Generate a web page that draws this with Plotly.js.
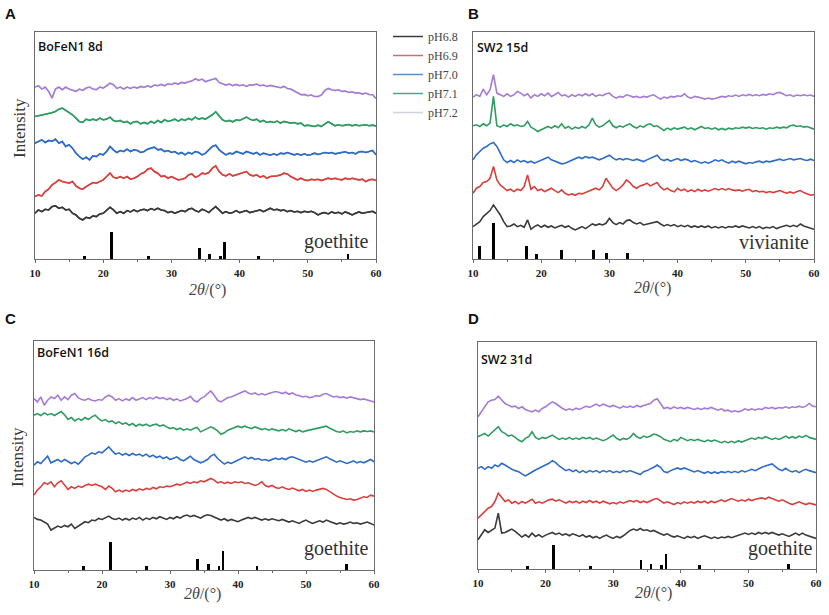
<!DOCTYPE html>
<html>
<head>
<meta charset="utf-8">
<script src="https://cdn.plot.ly/plotly-3.0.1.min.js"></script>
<style>
  html, body { margin: 0; padding: 0; background: #fff; }
  #chart { width: 829px; height: 615px; }
</style>
</head>
<body>
<div id="chart"></div>
<script>
// 2θ sampling positions (degrees)
const twoTheta = [
  10,10.5,11,11.5,12,12.5,13,13.5,14,14.5,
  15,15.5,16,16.5,17,17.5,18,18.5,19,19.5,
  20,20.5,21,21.5,22,22.5,23,23.5,24,24.5,
  25,25.5,26,26.5,27,27.5,28,28.5,29,29.5,
  30,30.5,31,31.5,32,32.5,33,33.5,34,34.5,
  35,35.5,36,36.5,37,37.5,38,38.5,39,39.5,
  40,40.5,41,41.5,42,42.5,43,43.5,44,44.5,
  45,45.5,46,46.5,47,47.5,48,48.5,49,49.5,
  50,50.5,51,51.5,52,52.5,53,53.5,54,54.5,
  55,55.5,56,56.5,57,57.5,58,58.5,59,59.5,
  60];

const seriesNames = ['pH6.8','pH6.9','pH7.0','pH7.1','pH7.2'];

// ---- Panel A: BoFeN1 8d (stacked intensity, arbitrary units) ----
const a68 = [137,147,142,149,147,157,159,152,155,147, 149,137,132,122,117,125,122,129,127,135,
  137,145,155,147,137,142,137,145,141,147, 142,147,149,145,151,147,152,147,145,139,
  142,137,141,145,142,149,152,145,141,149, 145,139,149,157,147,137,142,137,139,145,
  139,142,145,139,142,145,147,142,147,152, 147,149,145,147,142,145,141,143,139,143,
  140,143,139,132,137,139,135,141,137,140, 135,141,137,132,137,141,137,139,142,143, 137];
const a69 = [187,192,189,202,209,222,229,237,232,229, 227,232,219,212,209,217,222,229,227,232,
  237,247,257,245,242,247,242,247,239,242, 247,255,259,269,272,262,257,247,249,242,
  247,242,237,239,242,252,255,245,249,257, 255,259,272,279,262,252,249,255,249,252,
  255,257,262,252,249,252,245,249,242,247, 247,249,252,257,255,247,242,237,242,237,
  235,239,237,239,235,239,242,239,242,239, 237,242,239,242,239,237,239,232,237,239, 235];
const a70 = [347,352,357,349,355,352,359,347,352,337, 342,332,317,307,299,305,297,309,307,315,
  312,322,337,327,319,325,322,329,322,327, 325,319,322,329,332,335,327,329,322,325,
  319,322,315,319,312,319,315,322,319,312, 317,327,337,341,327,319,312,317,315,322,
  319,315,322,319,315,319,312,317,315,311, 315,311,317,315,319,315,312,315,311,315,
  311,313,317,313,315,319,317,319,315,317, 319,321,317,319,315,321,322,319,322,325, 312];
const a71 = [427,429,432,433,435,438,442,449,452,445, 437,432,422,412,409,419,415,419,415,422,
  417,419,425,415,412,415,409,412,405,411, 412,405,409,405,412,407,415,409,417,412,
  415,419,413,419,415,421,417,425,419,422, 419,425,432,441,429,417,412,415,411,417,
  415,419,425,419,415,419,411,415,409,412, 409,413,407,412,409,407,409,405,407,399,
  401,399,397,401,397,405,411,405,399,402, 399,401,403,399,402,399,401,402,399,401, 398];
const a72 = [515,519,509,515,502,482,509,515,507,515, 509,505,502,509,505,512,515,509,507,515,
  512,519,527,522,511,515,509,515,511,515, 512,517,514,519,515,521,519,523,519,525,
  523,527,524,529,527,531,533,540,535,539, 531,535,539,541,529,525,521,524,519,523,
  519,522,517,522,521,524,519,521,517,520, 517,515,513,517,511,509,504,499,492,493,
  489,491,487,487,491,505,511,507,505,507, 502,503,499,501,497,498,494,497,493,492, 481];

// ---- Panel B: SW2 15d ----
const b68 = [97,105,112,127,137,145,162,147,132,112, 97,99,105,97,101,95,117,89,97,102,
  95,101,95,99,93,97,101,95,99,92, 87,92,97,91,99,105,101,105,102,107,
  122,109,103,109,105,115,117,109,105,109, 102,105,107,109,112,105,99,103,99,103,
  97,101,97,101,95,99,95,99,95,99, 93,97,93,97,93,97,95,99,95,99,
  97,93,97,93,97,91,95,93,97,91, 95,97,101,97,101,97,105,99,95,93, 89];
const b69 = [197,212,217,229,232,242,277,237,222,212, 205,209,202,209,205,217,252,209,217,205,
  209,202,207,212,205,199,207,197,192,195, 191,197,195,199,202,207,212,207,217,242,
  227,212,205,212,222,237,229,217,212,219, 222,227,219,225,229,215,207,212,205,201,
  212,205,209,202,207,202,209,203,207,203, 207,211,207,211,207,211,207,205,207,203,
  207,209,202,205,201,203,199,202,199,202, 205,201,197,201,197,202,205,199,195,191, 193];
const b70 = [297,312,322,332,337,345,349,337,317,297, 289,295,289,297,291,295,289,293,287,291,
  295,299,305,297,293,289,285,287,291,297, 299,305,301,307,303,305,301,297,301,305,
  311,303,297,301,297,301,299,295,299,295, 292,297,302,307,311,299,295,299,293,297,
  301,295,299,297,291,295,291,287,291,287, 291,297,293,297,291,287,293,289,293,289,
  285,289,287,291,293,289,293,291,293,297, 299,295,297,301,297,299,301,297,295,299, 295];
const b71 = [399,402,397,405,399,407,487,399,395,402, 397,405,399,402,397,399,412,395,389,382,
  387,392,397,392,399,393,405,392,397,389, 395,391,397,392,402,422,402,395,399,407,
  415,399,393,399,395,401,405,397,392,399, 395,402,405,397,399,392,385,392,387,393,
  389,392,395,389,393,387,391,397,391,393, 389,393,387,391,387,392,389,393,391,395,
  392,395,391,394,391,393,389,393,391,395, 392,395,393,399,401,397,399,395,397,392, 389];
const b72 = [485,492,487,509,492,507,552,497,492,487, 495,487,492,502,497,489,495,482,492,487,
  495,489,497,487,492,499,489,492,485,492, 487,493,489,495,489,495,487,492,489,495,
  497,487,482,487,485,492,489,485,487,483, 487,485,489,492,485,479,485,482,487,485,
  489,487,495,485,482,487,485,482,479,482, 479,481,483,487,485,489,487,491,487,492,
  489,493,489,492,489,493,491,495,492,497, 499,495,489,492,487,491,489,492,489,491, 487];

// ---- Panel C: BoFeN1 16d ----
const c68 = [158,152,150,145,138,120,125,132,128,134, 130,138,125,132,140,145,142,150,148,155,
  152,158,162,155,152,156,150,155,150,156, 152,158,150,156,152,158,154,160,155,152,
  158,154,160,156,162,165,160,164,160,156, 162,166,164,160,155,150,154,148,152,148,
  145,150,154,158,154,158,154,150,154,150, 154,150,148,152,148,144,148,144,140,146,
  150,144,140,144,148,144,150,146,142,138, 142,138,140,144,140,142,138,142,144,140, 135];
const c69 = [225,240,250,262,258,265,250,262,268,255, 242,250,245,252,248,254,258,254,258,254,
  250,242,252,245,235,240,235,240,236,242, 238,244,240,245,242,248,244,250,248,252,
  250,254,258,255,260,264,260,265,262,268, 265,270,275,270,262,265,260,264,260,265,
  262,265,260,262,258,254,258,265,254,250, 254,248,245,250,245,242,246,242,238,242,
  236,240,236,240,242,245,242,235,228,222, 218,214,212,214,210,212,215,220,218,225, 222];
const c70 = [315,325,320,330,342,322,328,332,325,332, 326,320,325,318,328,340,345,352,348,355,
  352,360,370,358,348,352,345,350,344,350, 345,348,342,348,340,345,338,342,335,340,
  332,336,340,332,328,335,342,332,328,322, 326,332,342,348,335,325,318,324,320,325,
  330,335,340,334,338,332,335,330,332,328, 332,336,332,336,332,338,340,336,332,328,
  324,328,324,328,332,336,340,334,328,324, 328,324,320,324,328,322,326,322,326,332, 325];
const c71 = [465,470,464,472,466,470,464,470,476,466, 452,458,448,455,450,458,452,460,465,455,
  448,452,445,448,440,445,438,442,435,440, 432,438,434,438,432,436,438,432,436,430,
  425,428,422,426,420,424,420,425,428,415, 420,425,430,425,418,408,412,420,424,428,
  432,428,432,428,425,430,426,422,425,420, 424,420,418,422,418,424,420,416,420,415,
  418,420,422,425,428,430,432,426,420,416, 414,418,412,416,414,418,415,418,416,418, 415];
const c72 = [515,505,520,495,510,520,515,525,510,520, 512,525,530,518,512,510,515,510,508,512,
  510,520,525,520,510,515,508,514,510,518, 510,515,518,512,518,514,520,515,518,512,
  516,510,514,508,512,515,522,510,505,515, 520,530,538,525,510,505,512,518,520,525,
  530,535,538,532,528,532,526,530,526,530, 532,536,534,530,534,528,532,526,524,520,
  522,518,520,524,522,528,530,524,520,522, 518,520,516,520,518,514,512,514,512,508, 505];

// ---- Panel D: SW2 31d ----
const d68 = [88,103,118,110,116,123,168,108,110,116, 120,113,103,96,103,96,108,98,103,96,
  102,106,110,104,108,102,106,100,106,102, 98,103,96,100,94,98,92,98,102,96,
  92,98,94,100,108,116,120,116,122,116, 118,113,116,110,106,102,106,100,96,100,
  96,92,98,94,98,92,96,100,96,92, 96,92,96,94,98,94,98,102,106,108,
  104,108,104,110,106,110,106,110,106,102, 106,102,98,103,108,102,108,102,98,96, 92];
const d69 = [153,163,173,183,188,203,228,216,203,208, 198,203,196,203,198,204,210,198,202,198,
  204,208,210,204,208,202,198,204,200,204, 198,204,200,206,200,204,198,204,200,196,
  200,196,202,198,202,206,202,206,200,204, 200,206,210,212,206,198,202,198,194,200,
  196,202,198,202,198,204,200,204,198,204, 200,204,208,203,208,212,208,204,208,204,
  210,206,210,212,214,210,216,212,208,204, 208,202,198,194,198,202,198,194,198,196, 193];
const d70 = [303,308,300,308,303,313,308,318,313,306, 300,296,293,286,280,286,293,298,303,308,
  313,318,326,320,310,303,296,300,293,298, 290,296,290,296,292,296,290,296,292,296,
  290,294,290,296,292,296,293,288,284,293, 296,300,306,313,306,293,290,296,300,304,
  300,304,300,296,292,296,292,288,293,288, 292,288,293,290,294,290,294,290,296,292,
  296,300,296,302,306,310,313,316,308,300, 296,303,296,292,296,290,296,300,296,292, 290];
const d71 = [398,403,408,400,410,418,428,413,408,400, 403,396,388,383,393,398,413,396,390,396,
  393,398,403,396,390,394,390,396,390,394, 390,396,392,396,390,394,390,386,390,396,
  403,393,388,393,390,396,408,398,393,400, 396,400,406,403,398,390,386,383,390,386,
  396,390,386,390,386,390,386,383,388,384, 388,384,380,384,380,384,380,386,382,386,
  390,394,390,396,392,398,394,390,394,390, 394,400,394,398,394,400,396,402,396,393, 390];
const d72 = [458,473,490,503,508,510,520,508,498,493, 488,490,483,488,480,476,473,478,473,483,
  488,496,503,498,490,483,478,482,478,484, 480,486,490,486,492,496,490,496,492,488,
  492,488,484,490,486,490,486,492,488,492, 496,498,508,512,498,483,486,482,488,483,
  486,482,486,483,480,484,480,484,482,486, 482,478,482,476,478,473,476,473,476,482,
  478,482,478,482,480,486,483,486,482,486, 484,488,484,488,486,490,486,490,498,490, 488];

// ---- Reference patterns (stick lines) ----
const goethitePos = [17.3, 21.2, 26.6, 34.1, 35.6, 37.2, 37.8, 42.8, 55.9];
const goethiteA   = [10, 80, 10, 32, 15, 9, 50, 10, 14];
const goethiteC   = [13, 85, 13, 34, 18, 13, 57, 13, 18];
const goethiteD   = [10, 71, 10, 28, 14, 11, 46, 11, 15];
const vivianitePos = [11.0, 13.0, 17.9, 19.3, 23.0, 27.7, 29.6, 32.7];
const vivianiteB   = [40, 109, 40, 14, 27, 27, 19, 19];

// ---------------- styling / construction ----------------
const lineColors = ['#3a3a3a', '#d8403c', '#2e6cc6', '#2f9c62', '#a57bd8'];
const legendColors = ['#3c3c3c', '#c97070', '#5c8cc8', '#4aa88a', '#d2d0da'];

const panels = [
  {ax: '', series: [a68, a69, a70, a71, a72], sticks: [goethitePos, goethiteA]},
  {ax: '2', series: [b68, b69, b70, b71, b72], sticks: [vivianitePos, vivianiteB]},
  {ax: '3', series: [c68, c69, c70, c71, c72], sticks: [goethitePos, goethiteC]},
  {ax: '4', series: [d68, d69, d70, d71, d72], sticks: [goethitePos, goethiteD]}
];

const data = [];
// legend entries (drawn underneath panel A's own curves, which cover them)
panels[0].series.forEach((ys, i) => {
  data.push({
    type: 'scatter', mode: 'lines', x: twoTheta, y: ys, name: seriesNames[i],
    xaxis: 'x', yaxis: 'y',
    line: {color: legendColors[i], width: 1.5},
    showlegend: true, hoverinfo: 'skip'
  });
});
panels.forEach(p => {
  p.series.forEach((ys, i) => {
    data.push({
      type: 'scatter', mode: 'lines', x: twoTheta, y: ys,
      xaxis: 'x' + p.ax, yaxis: 'y' + p.ax,
      line: {color: lineColors[i], width: 1.6},
      showlegend: false, hoverinfo: 'skip', name: seriesNames[i]
    });
  });
  data.push({
    type: 'bar', x: p.sticks[0], y: p.sticks[1], width: 0.42,
    xaxis: 'x' + p.ax, yaxis: 'y' + p.ax,
    marker: {color: '#000', line: {width: 0}},
    showlegend: false, hoverinfo: 'skip'
  });
});

const W = 829, H = 615;
const px = v => v / W;
const py = v => 1 - v / H;

const frame = '#6b6b6b';
const serif = 'Liberation Serif';
function xax(l, r, anchor) {
  return {
    domain: [px(l), px(r)], anchor: anchor, range: [10, 60],
    showline: true, mirror: true, linecolor: frame, linewidth: 1.4,
    showgrid: false, zeroline: false,
    ticks: 'outside', ticklen: 3, tickwidth: 1, tickcolor: frame, dtick: 10, tick0: 10,
    minor: {dtick: 5, ticks: 'outside', ticklen: 2, tickcolor: frame},
    tickfont: {family: serif, size: 11, color: '#222', weight: 700},
    fixedrange: true
  };
}
function yax(t, b, anchor, top) {
  return {
    domain: [py(b), py(t)], anchor: anchor, range: [0, top],
    showline: true, mirror: true, linecolor: frame, linewidth: 1.4,
    showgrid: false, zeroline: false, ticks: '', showticklabels: false,
    fixedrange: true
  };
}

function ann(text, x, y, opts) {
  return Object.assign({
    text: text, x: px(x), y: py(y), xref: 'paper', yref: 'paper',
    showarrow: false, xanchor: 'center', yanchor: 'middle'
  }, opts);
}
const letterFont = {family: 'Liberation Sans', size: 15, color: '#111', weight: 700};
const innerFont = {family: 'Open Sans', size: 12.5, color: '#111', weight: 600};
const refFont = {family: serif, size: 20, color: '#333'};
const xtFont = {family: serif, size: 16, color: '#444'};
const ytFont = {family: serif, size: 17, color: '#333'};

const annotations = [
  ann('A', 10, 14, {font: letterFont}),
  ann('B', 473, 14, {font: letterFont}),
  ann('C', 10, 318, {font: letterFont}),
  ann('D', 473, 318, {font: letterFont}),
  ann('BoFeN1 8d', 36, 47, {font: innerFont, xanchor: 'left'}),
  ann('SW2 15d', 475, 48, {font: innerFont, xanchor: 'left'}),
  ann('BoFeN1 16d', 35, 352, {font: innerFont, xanchor: 'left'}),
  ann('SW2 31d', 479, 359, {font: innerFont, xanchor: 'left'}),
  ann('goethite', 371, 241, {font: refFont, xanchor: 'right'}),
  ann('vivianite', 811, 242, {font: refFont, xanchor: 'right'}),
  ann('goethite', 371, 548, {font: refFont, xanchor: 'right'}),
  ann('goethite', 815, 548, {font: refFont, xanchor: 'right'}),
  ann('<i>2θ</i>/(°)', 207, 290, {font: xtFont}),
  ann('<i>2θ</i>/(°)', 652, 288, {font: xtFont}),
  ann('<i>2θ</i>/(°)', 202, 594, {font: xtFont}),
  ann('<i>2θ</i>/(°)', 653, 593, {font: xtFont}),
  ann('Intensity', 19, 128, {font: ytFont, textangle: -90}),
  ann('Intensity', 17, 457, {font: ytFont, textangle: -90})
];

const layout = {
  width: W, height: H,
  margin: {l: 0, r: 0, t: 0, b: 0},
  paper_bgcolor: '#fff', plot_bgcolor: '#fff',
  showlegend: true,
  legend: {
    x: px(388), y: py(22), xanchor: 'left', yanchor: 'top',
    bgcolor: 'rgba(0,0,0,0)', borderwidth: 0,
    font: {family: serif, size: 12, color: '#444'},
    itemwidth: 30, tracegroupgap: 0, traceorder: 'normal'
  },
  xaxis: xax(35, 376, 'y'),
  yaxis: yax(32, 259, 'x', 680),
  xaxis2: xax(473, 814, 'y2'),
  yaxis2: yax(32, 259, 'x2', 680),
  xaxis3: xax(34, 374, 'y3'),
  yaxis3: yax(341, 570, 'x3', 688),
  xaxis4: xax(478, 816, 'y4'),
  yaxis4: yax(342, 569, 'x4', 683),
  annotations: annotations,
  bargap: 0
};

Plotly.newPlot('chart', data, layout, {displayModeBar: false, staticPlot: true});
</script>
</body>
</html>
